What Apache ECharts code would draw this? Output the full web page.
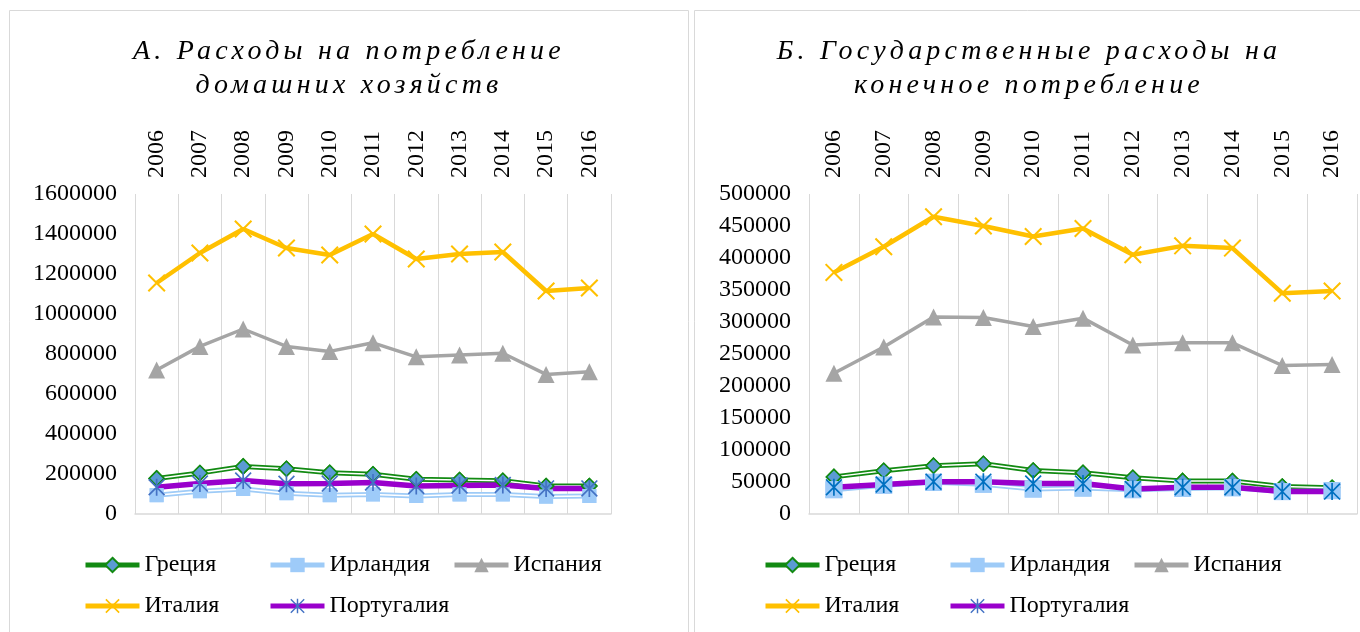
<!DOCTYPE html>
<html>
<head>
<meta charset="utf-8">
<script src="https://cdn.jsdelivr.net/npm/echarts@6/dist/echarts.min.js"></script>
<style>
  html, body { margin: 0; padding: 0; background: #fff; }
  #main { width: 1360px; height: 632px; }
  .ttl {
    position: absolute; top: 33px; text-align: center;
    font: italic 28px/34px "Liberation Serif", serif; letter-spacing: 4.2px; color: #000;
  }
</style>
</head>
<body>
<div id="main"></div>
<div class="ttl" style="left:9px;width:680px;">А. Расходы на потребление<br>домашних хозяйств</div>
<div class="ttl" style="left:694px;width:670px;">Б. Государственные расходы на<br>конечное потребление</div>
<script>
// годы (категории)
const years = ['2006', '2007', '2008', '2009', '2010', '2011', '2012', '2013', '2014', '2015', '2016'];

// А. Расходы на потребление домашних хозяйств
const greeceA = [178000, 205000, 238000, 226000, 206000, 199000, 174000, 170000, 166000, 140000, 140000];
const irelandA = [94000, 114000, 125000, 104000, 94000, 98000, 90000, 98000, 98000, 87000, 90000];
const spainA = [720000, 838000, 925000, 838000, 813000, 856000, 786000, 795000, 804000, 698000, 711000];
const italyA = [1155000, 1305000, 1425000, 1330000, 1295000, 1400000, 1275000, 1300000, 1310000, 1115000, 1130000];
const portugalA = [134000, 152000, 167000, 151000, 152000, 158000, 140000, 143000, 145000, 128000, 128000];

// Б. Государственные расходы на конечное потребление
const greeceB = [58000, 67500, 75500, 78500, 68000, 64500, 56500, 51700, 51500, 43000, 41000];
const irelandB = [38000, 45000, 49500, 46500, 39000, 40500, 38000, 40000, 41000, 35000, 36500];
const spainB = [220000, 261000, 308000, 307000, 293000, 306000, 264000, 267500, 267500, 232000, 233500];
const italyB = [377500, 417500, 464500, 450000, 433500, 446000, 405000, 419000, 415500, 345000, 348500];
const portugalB = [41700, 46000, 50500, 50500, 47500, 47500, 39000, 41700, 41700, 35000, 35000];

const font = 'Liberation Serif';
const grey = '#d9d9d9';
const crossPath = 'path://M0,8L8,0L100,92L92,100Z M92,0L100,8L8,100L0,92Z';
const starPath = 'path://M0,7L7,0L100,93L93,100Z M93,0L100,7L7,100L0,93Z M45,0L55,0L55,100L45,100Z';

let myChart = echarts.init(document.getElementById('main'));

function line(name, data, g, color, width, symbol, size, itemStyle) {
	return {
		name: name,
		type: 'line',
		xAxisIndex: g * 2,
		yAxisIndex: g,
		data: data,
		symbol: symbol,
		symbolSize: size,
		showSymbol: symbol !== 'none',
		lineStyle: { color: color, width: width },
		itemStyle: itemStyle || { color: color }
	};
}

// двойная линия: цветная, белая внутри, маркеры поверх
function doubleLine(name, data, g, color, symbol, size, itemStyle) {
	let inner = line(name + ' ', data, g, '#fff', 1.5, 'none', 0);
	let marks = line(name + '  ', data, g, color, 0, symbol, size, itemStyle);
	marks.lineStyle.opacity = 0;
	return [line(name, data, g, color, 5, symbol, size, itemStyle), inner, marks];
}

function seriesFor(g, gr, ir, sp, it, pt, starColor, sqSize) {
	return [].concat(
		doubleLine('Греция', gr, g, '#128a12', 'diamond', 15, { color: '#5b9bd5', borderColor: '#128a12', borderWidth: 1.5 }),
		doubleLine('Ирландия', ir, g, '#9ecbf7', 'rect', sqSize, { color: '#9ecbf9' }),
		[line('Испания', sp, g, '#a5a5a5', 3.5, 'triangle', 17),
		 line('Италия', it, g, '#ffc000', 4.5, crossPath, 18),
		 line('Португалия', pt, g, '#9900cc', 5.5, starPath, 17, { color: starColor })]
	);
}

function xTop(g) {
	return {
		type: 'category', gridIndex: g, position: 'top', data: years,
		axisLine: { show: false }, axisTick: { show: false },
		axisLabel: { rotate: 90, margin: 16, fontFamily: font, fontSize: 24, color: '#000' },
		splitLine: { show: true, lineStyle: { color: grey, width: 1 } }
	};
}
function xBottom(g) {
	return {
		type: 'category', gridIndex: g, position: 'bottom', data: years,
		axisLine: { show: true, lineStyle: { color: grey, width: 1.5 } },
		axisTick: { show: false }, axisLabel: { show: false }, splitLine: { show: false }
	};
}
function yAx(g, max, step) {
	return {
		type: 'value', gridIndex: g, min: 0, max: max, interval: step,
		axisLine: { show: false }, axisTick: { show: false }, splitLine: { show: false },
		axisLabel: {
			margin: 18, fontFamily: font, fontSize: 24, color: '#000',
			formatter: function(v) { return String(v); }
		}
	};
}
// легенда: каждый пункт отдельно, по колонкам как в Excel
function legendItem(name, left, top) {
	return {
		left: left, top: top, itemWidth: 54, itemHeight: 18, padding: 0,
		lineStyle: { width: 5 },
		textStyle: { fontFamily: font, fontSize: 24, color: '#000' },
		data: [name]
	};
}
function legendFor(x0) {
	return [
		legendItem('Греция', x0, 553),
		legendItem('Ирландия', x0 + 185, 553),
		legendItem('Испания', x0 + 369, 553),
		legendItem('Италия', x0, 594),
		legendItem('Португалия', x0 + 185, 594)
	];
}

myChart.setOption({
	animation: false,
	textStyle: { fontFamily: font },
	graphic: [
		{ type: 'rect', shape: { x: 9.5, y: 10.5, width: 679, height: 640 }, style: { fill: 'none', stroke: grey, lineWidth: 1 } },
		{ type: 'rect', shape: { x: 694.5, y: 10.5, width: 670, height: 640 }, style: { fill: 'none', stroke: grey, lineWidth: 1 } }
	],
	grid: [
		{ left: 135, right: 749, top: 194, bottom: 118 },
		{ left: 809, right: 3, top: 194, bottom: 118 }
	],
	xAxis: [xTop(0), xBottom(0), xTop(1), xBottom(1)],
	yAxis: [yAx(0, 1600000, 200000), yAx(1, 500000, 50000)],
	legend: legendFor(83).concat(legendFor(763)),
	series: seriesFor(0, greeceA, irelandA, spainA, italyA, portugalA, '#4472c4', 14)
		.concat(seriesFor(1, greeceB, irelandB, spainB, italyB, portugalB, '#0070c0', 17))
});
</script>
</body>
</html>
